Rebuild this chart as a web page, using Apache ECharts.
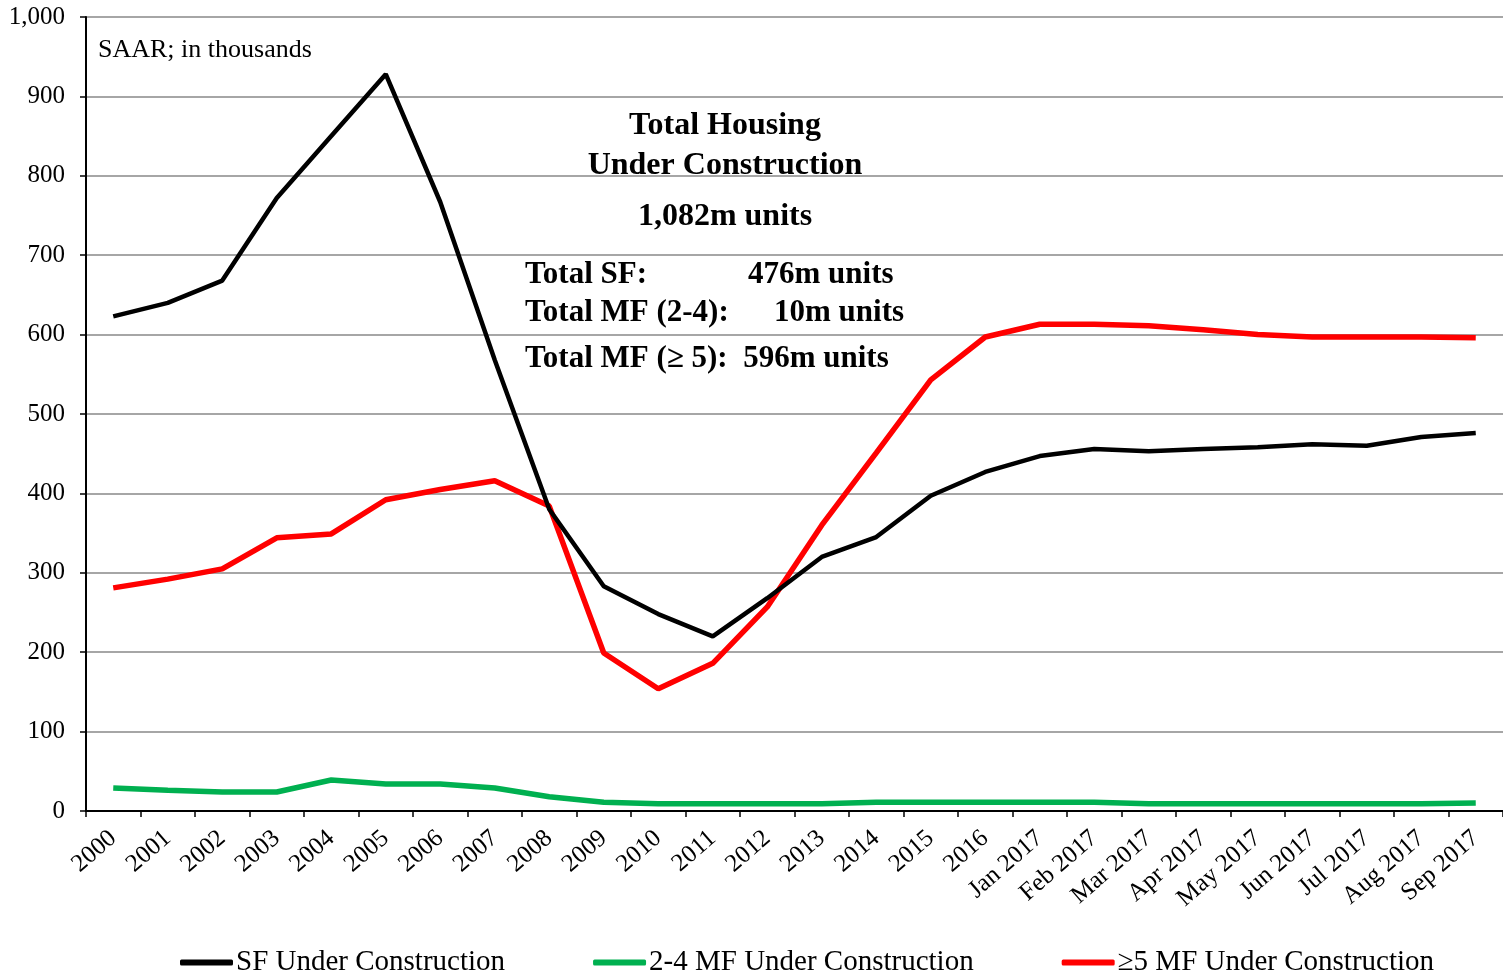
<!DOCTYPE html>
<html>
<head>
<meta charset="utf-8">
<title>Housing Under Construction</title>
<script src="https://cdn.jsdelivr.net/npm/echarts@6/dist/echarts.min.js"></script>
<style>
  html, body { margin: 0; padding: 0; background: #fff; }
  #chart { width: 1503px; height: 977px; }
</style>
</head>
<body>
<div id="chart"></div>
<script>
var categories = ['2000', '2001', '2002', '2003', '2004', '2005', '2006', '2007', '2008', '2009',
  '2010', '2011', '2012', '2013', '2014', '2015', '2016', 'Jan 2017', 'Feb 2017', 'Mar 2017',
  'Apr 2017', 'May 2017', 'Jun 2017', 'Jul 2017', 'Aug 2017', 'Sep 2017'];

var sfValues = [623, 640, 668, 772, 850, 928, 767, 568, 380, 283,
  248, 220, 268, 320, 345, 397, 427, 447, 456, 453,
  456, 458, 462, 460, 471, 476];

var mf24Values = [29, 26, 24, 24, 39, 34, 34, 29, 18, 11,
  9, 9, 9, 9, 11, 11, 11, 11, 11, 9,
  9, 9, 9, 9, 9, 10];

var mf5Values = [281, 292, 305, 344, 349, 392, 405, 416, 384, 199,
  154, 186, 257, 360, 451, 543, 597, 613, 613, 611,
  606, 600, 597, 597, 597, 596];

var seriesNames = ['SF Under Construction', '2-4 MF Under Construction', '\u22655 MF Under Construction'];

var serif = '"Liberation Serif", "Times New Roman", serif';

var chart = echarts.init(document.getElementById('chart'));

function note(text, x, y, size, bold, align) {
  return {
    type: 'text',
    x: x,
    y: y,
    style: {
      text: text,
      font: (bold ? 'bold ' : '') + size + 'px ' + serif,
      fill: '#000',
      textAlign: align || 'left',
      textVerticalAlign: 'middle'
    }
  };
}

chart.setOption({
  animation: false,
  textStyle: { fontFamily: serif },
  grid: { left: 86, right: 0, top: 17, bottom: 166, containLabel: false },
  legend: {
    data: seriesNames,
    left: 175,
    top: 943,
    itemWidth: 53,
    itemHeight: 6,
    itemGap: 88,
    icon: 'roundRect',
    textStyle: { fontFamily: serif, fontSize: 29, color: '#000', padding: [0, 0, 0, -2] }
  },
  xAxis: {
    type: 'category',
    data: categories,
    boundaryGap: true,
    axisLine: { lineStyle: { color: '#000', width: 2 } },
    axisTick: { show: true, length: 6, inside: false, lineStyle: { color: '#000', width: 1.5 } },
    axisLabel: { rotate: 41, fontSize: 25, color: '#000', fontFamily: serif, margin: 24, interval: 0 }
  },
  yAxis: {
    type: 'value',
    min: 0,
    max: 1000,
    interval: 100,
    axisLine: { show: true, lineStyle: { color: '#000', width: 2 } },
    axisTick: { show: true, length: 6, lineStyle: { color: '#000', width: 1.5 } },
    axisLabel: {
      fontSize: 25, color: '#000', fontFamily: serif, margin: 21,
      formatter: function (v) { return v.toLocaleString('en-US'); }
    },
    splitLine: { show: true, lineStyle: { color: '#888', width: 1.5 } }
  },
  series: [
    {
      name: seriesNames[0], type: 'line', data: sfValues,
      symbol: 'none', lineStyle: { color: '#000', width: 4.5 }, itemStyle: { color: '#000' }, z: 3
    },
    {
      name: seriesNames[1], type: 'line', data: mf24Values,
      symbol: 'none', lineStyle: { color: '#00b050', width: 5.5 }, itemStyle: { color: '#00b050' }, z: 2
    },
    {
      name: seriesNames[2], type: 'line', data: mf5Values,
      symbol: 'none', lineStyle: { color: '#ff0000', width: 5.5 }, itemStyle: { color: '#ff0000' }, z: 2
    }
  ],
  graphic: [
    note('SAAR; in thousands', 98, 50, 26, false),
    note('Total Housing', 725, 126, 32, true, 'center'),
    note('Under Construction', 725, 166, 32, true, 'center'),
    note('1,082m units', 725, 217, 32, true, 'center'),
    note('Total SF:', 525, 275, 31, true),
    note('476m units', 748, 275, 31, true),
    note('Total MF (2-4):', 525, 313, 31, true),
    note('10m units', 774, 313, 31, true),
    note('Total MF (\u2265 5):  596m units', 525, 359, 31, true)
  ]
});
</script>
</body>
</html>
